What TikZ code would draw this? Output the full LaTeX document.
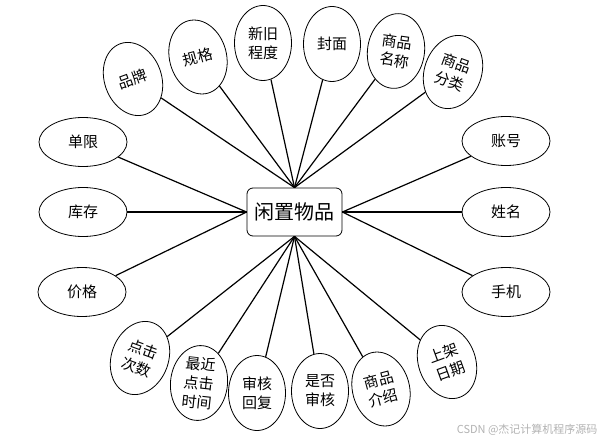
\documentclass[tikz,border=0pt]{standalone}
\usepackage{fontspec}
\newfontfamily\cjk{Noto Sans CJK SC}
\usetikzlibrary{shapes.geometric}
\begin{document}
\begin{tikzpicture}[x=1pt,y=-1pt,
  attr/.style={draw, ellipse, line width=0.8pt, inner sep=0pt, align=center,
    font=\cjk\fontsize{15}{19}\selectfont},
  wide/.style={attr, minimum width=88pt, minimum height=49pt},
  tall/.style={attr, minimum width=57pt, minimum height=75pt},
  link/.style={line width=1.2pt}]
\useasboundingbox (0,0) rectangle (607,441);
\node[draw, rounded corners=6pt, line width=0.8pt, minimum width=95pt, minimum height=48pt,
  font=\cjk\fontsize{20}{24}\selectfont] (c) at (294.5,212) {闲置物品};
% left
\node[wide] (dx) at (83,142) {单限};
\node[wide] (kc) at (83,212) {库存};
\node[wide] (jg) at (82,292) {价格};
% right
\node[wide] (zh) at (506,141) {账号};
\node[wide] (xm) at (506,212) {姓名};
\node[wide] (sj) at (506,292) {手机};
% top
\node[tall, rotate=20] (pp) at (133,79) {品牌};
\node[tall, rotate=15] (gg) at (198,57) {规格};
\node[tall] (xj) at (263,43) {新旧\\程度};
\node[tall] (fm) at (332,44) {封面};
\node[tall, rotate=-8] (mc) at (396,51) {商品\\名称};
\node[tall, rotate=-20] (fl) at (453,72) {商品\\分类};
% bottom
\node[tall, rotate=-20] (dj) at (140,358) {点击\\次数};
\node[tall, rotate=-6] (zj) at (199,383) {最近\\点击\\时间};
\node[tall] (hf) at (257,393) {审核\\回复};
\node[tall] (sh) at (320,391) {是否\\审核};
\node[tall, rotate=15] (js) at (381,389) {商品\\介绍};
\node[tall, rotate=20] (rq) at (447,362) {上架\\日期};
% links
\foreach \n in {pp,gg,xj,fm,mc,fl} \draw[link] (\n) -- (c.north);
\foreach \n in {dx,kc,jg} \draw[link] (\n) -- (c.west);
\foreach \n in {zh,xm,sj} \draw[link] (\n) -- (c.east);
\foreach \n in {dj,zj,hf,sh,js,rq} \draw[link] (\n) -- (c.south);
\node[font=\cjk\fontsize{11}{13}\selectfont, text=black!30, anchor=east] (wm) at (601,430) {CSDN @杰记计算机程序源码};
\end{tikzpicture}
\end{document}
